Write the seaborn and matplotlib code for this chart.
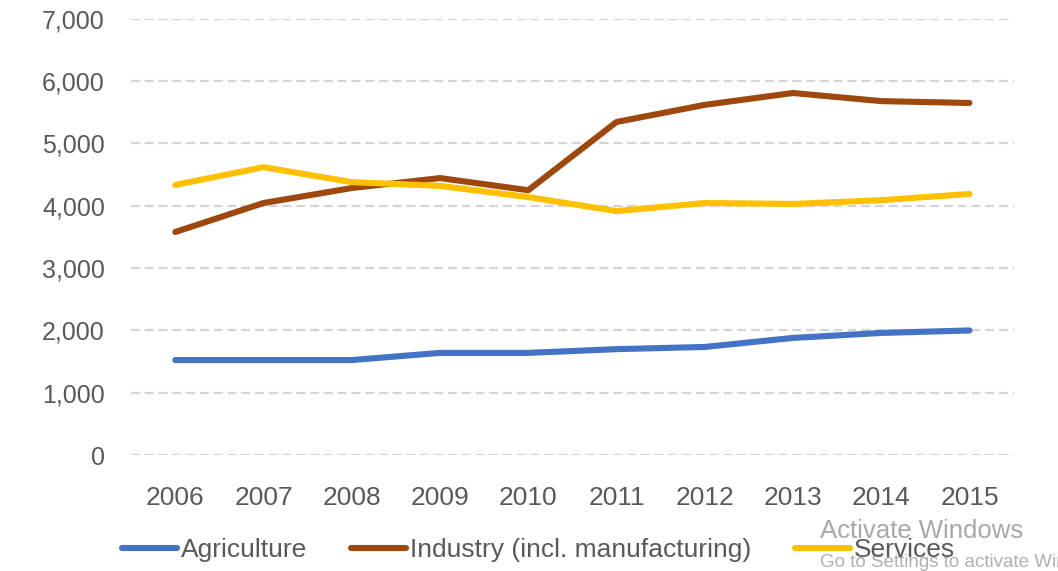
import matplotlib
matplotlib.use("Agg")
import matplotlib.pyplot as plt
import matplotlib.ticker as mticker
import seaborn as sns
import pandas as pd

years = [2006, 2007, 2008, 2009, 2010, 2011, 2012, 2013, 2014, 2015]
agriculture = [1525, 1525, 1525, 1640, 1640, 1700, 1735, 1880, 1960, 2000]
industry = [3580, 4045, 4285, 4445, 4250, 5345, 5620, 5810, 5680, 5650]
services = [4335, 4620, 4380, 4320, 4140, 3915, 4045, 4030, 4090, 4190]
series_names = ["Agriculture", "Industry (incl. manufacturing)", "Services"]
colors = ["#4472C4", "#9E480E", "#FFC000"]
y_ticks = [0, 1000, 2000, 3000, 4000, 5000, 6000, 7000]

df = pd.DataFrame({
    "year": years * 3,
    "value": agriculture + industry + services,
    "sector": [series_names[0]] * len(years)
              + [series_names[1]] * len(years)
              + [series_names[2]] * len(years),
})

sns.set_theme(style="white")
plt.rcParams["font.family"] = ["Liberation Sans", "DejaVu Sans"]
text_gray = "#595959"

fig = plt.figure(figsize=(10.58, 5.71), dpi=100)
ax = fig.add_axes([0.124, 0.203, 0.834, 0.764])

sns.lineplot(data=df, x="year", y="value", hue="sector", palette=colors,
             hue_order=series_names, linewidth=4.4, sort=False, ax=ax,
             legend=False)
for line in ax.get_lines():
    line.set_solid_capstyle("round")
    line.set_solid_joinstyle("round")

ax.set_xlim(2005.5, 2015.5)
ax.set_ylim(0, 7000)
ax.set_yticks(y_ticks)
ax.yaxis.set_major_formatter(mticker.FuncFormatter(lambda v, p: f"{int(v):,}"))
ax.set_xticks(years)
ax.set_xticklabels([str(y) for y in years])
ax.set_xlabel("")
ax.set_ylabel("")

# dashed horizontal gridlines at each tick
for v in y_ticks:
    ax.axhline(v, color="#d4d4d4", linewidth=1.6, linestyle=(0, (4, 2.2)), zorder=0)

for s in ax.spines.values():
    s.set_visible(False)
ax.tick_params(axis="both", length=0)
ax.tick_params(axis="y", labelsize=18, labelcolor=text_gray, pad=19)
ax.tick_params(axis="x", labelsize=19, labelcolor=text_gray, pad=22)

handles = [plt.Line2D([0], [0], color=c, linewidth=4.4, solid_capstyle="round")
           for c in colors]
fig.legend(handles, series_names, loc="center", bbox_to_anchor=(0.509, 0.037),
           ncol=3, frameon=False, handlelength=2.1, handletextpad=0.15,
           columnspacing=1.65, prop={"size": 19},
           labelcolor=text_gray)

# screen watermark in the lower-right corner
fig.text(0.775, 0.07, "Activate Windows", color="#a8a8a8", fontsize=18.5,
         va="center", ha="left")
fig.text(0.775, 0.015, "Go to Settings to activate Windows.", color="#b0b0b0",
         fontsize=13.5, va="center", ha="left")

fig.savefig("out.png", dpi=100, facecolor="white")
